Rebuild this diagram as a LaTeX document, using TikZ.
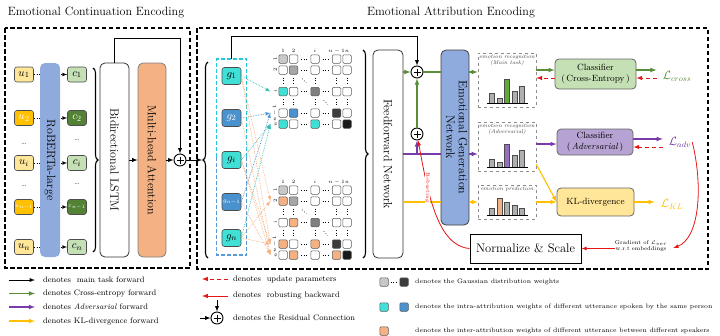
\documentclass[tikz,border=0pt]{standalone}
\usetikzlibrary{arrows,calc,positioning,fit,decorations.pathreplacing}
\definecolor{ULight}{RGB}{255,230,153}
\definecolor{UDark}{RGB}{255,192,0}
\definecolor{CLight}{RGB}{197,224,180}
\definecolor{CDark}{RGB}{84,130,53}
\definecolor{RobClr}{RGB}{143,170,220}
\definecolor{MhaClr}{RGB}{244,177,131}
\definecolor{IntraA}{RGB}{64,224,214}
\definecolor{IntraB}{RGB}{74,146,206}
\definecolor{InterC}{RGB}{244,177,131}
\definecolor{GaussA}{RGB}{200,200,200}
\definecolor{GaussB}{RGB}{166,166,166}
\definecolor{GaussC}{RGB}{127,127,127}
\definecolor{GaussD}{RGB}{60,60,60}
\definecolor{GaussE}{RGB}{25,25,25}
\definecolor{FwdGreen}{RGB}{88,142,56}
\definecolor{FwdPurple}{RGB}{120,60,170}
\definecolor{FwdYellow}{RGB}{255,192,0}
\definecolor{BwdRed}{RGB}{230,20,20}
\definecolor{ClsGreen}{RGB}{197,224,180}
\definecolor{ClsPurple}{RGB}{183,163,211}
\definecolor{KlYellow}{RGB}{255,230,153}
\definecolor{BoxCyan}{RGB}{40,200,220}
\definecolor{BoxBlue}{RGB}{91,155,213}
\definecolor{BarGray}{RGB}{175,175,175}
\definecolor{BarGreen}{RGB}{98,170,55}
\definecolor{BarPurple}{RGB}{150,110,195}

\tikzset{
  tok/.style={draw=black!70, line width=0.6pt, rounded corners=2.5pt, minimum width=19pt,
    minimum height=15pt, inner sep=0pt, font=\fontsize{11}{11}\selectfont},
  gtok/.style={tok, minimum height=17pt},
  dotsl/.style={inner sep=0pt, font=\fontsize{8}{8}\selectfont},
  stack/.style={draw=black!80, line width=0.8pt, rounded corners=5pt, inner sep=0pt,
    font=\fontsize{12}{12.5}\selectfont},
  cell/.style={draw=black!65, line width=0.5pt, rounded corners=1.2pt, minimum size=8.5pt,
    inner sep=0pt, fill=white},
  mtxt/.style={inner sep=0.4pt, font=\fontsize{5}{5}\selectfont},
  mdot/.style={dotted, line width=0.7pt, shorten <=3pt, shorten >=3pt},
  resid/.style={circle, draw, line width=0.9pt, minimum size=12pt, inner sep=0pt,
    path picture={\draw[line width=0.9pt]
      ([yshift=-2.5pt]path picture bounding box.north) -- ([yshift=2.5pt]path picture bounding box.south)
      ([xshift=2.5pt]path picture bounding box.west) -- ([xshift=-2.5pt]path picture bounding box.east);}},
  mfwd/.style={-latex, line width=0.9pt},
  gfwd/.style={-latex, line width=1.1pt, FwdGreen},
  pfwd/.style={-latex, line width=1.1pt, FwdPurple},
  yfwd/.style={-latex, line width=1.1pt, FwdYellow},
  upd/.style={-latex, line width=1pt, BwdRed, dash pattern=on 4pt off 3pt},
  rbwd/.style={-latex, line width=0.8pt, BwdRed},
  toIntraA/.style={-latex, densely dotted, line width=0.7pt, IntraA!85!black},
  toIntraB/.style={-latex, densely dotted, line width=0.7pt, IntraB},
  toInter/.style={-latex, densely dotted, line width=0.7pt, InterC},
  brc/.style={decorate, decoration={brace, amplitude=5pt}, line width=1.1pt},
  outer/.style={draw, line width=1.3pt, dash pattern=on 4.5pt off 2.5pt},
  gframe/.style={line width=1.3pt, dash pattern=on 4pt off 2pt},
  ttl/.style={inner sep=0pt, font=\fontsize{12}{14}\selectfont},
  hbox/.style={draw=black!45, dashed, line width=0.6pt, minimum width=58pt, inner sep=0pt},
  htxt/.style={align=center, inner sep=0pt, text=black!75, font=\fontsize{5.5}{6.5}\selectfont\itshape},
  histbar/.style={draw=black!70, line width=0.5pt},
  clsbox/.style={draw=black!60, line width=0.8pt, rounded corners=4pt, align=center, inner sep=0pt,
    font=\fontsize{9}{10.5}\selectfont},
  lossl/.style={inner sep=1pt, font=\fontsize{12}{12}\selectfont},
  legtxt/.style={anchor=west, inner sep=0pt, font=\fontsize{8}{9}\selectfont},
  legtxtB/.style={legtxt, font=\fontsize{6.4}{7}\selectfont},
  % filled cells of the two attribution maps
  mA 11/.style={fill=GaussA}, mA 22/.style={fill=GaussB}, mA i1/.style={fill=IntraA},
  mA ii/.style={fill=GaussC}, mA m2/.style={fill=IntraB}, mA mm/.style={fill=GaussD},
  mA n1/.style={fill=IntraA}, mA ni/.style={fill=IntraA}, mA nn/.style={fill=GaussE},
  mB 11/.style={fill=GaussA}, mB 21/.style={fill=InterC}, mB 22/.style={fill=GaussB},
  mB i2/.style={fill=InterC}, mB ii/.style={fill=GaussC}, mB m1/.style={fill=InterC},
  mB mi/.style={fill=InterC}, mB mm/.style={fill=GaussD}, mB n2/.style={fill=InterC},
  mB nm/.style={fill=InterC}, mB nn/.style={fill=GaussE}
}

\newcommand{\attmap}[2]{%
  \foreach \mc/\mx in {1/283,2/293.5,i/315,m/336.5,n/347}
    \foreach \mr/\my in {1/0,2/11,i/32.5,m/54,n/65}
      \node[cell, #1 \mr\mc/.try] (#1-\mr-\mc) at (\mx,#2+\my) {};
  \foreach \mc in {1,2,i,m,n}{
    \draw[mdot] (#1-2-\mc) -- (#1-i-\mc);
    \draw[mdot] (#1-i-\mc) -- (#1-m-\mc);
    \draw[mdot] (#1-\mc-2) -- (#1-\mc-i);
    \draw[mdot] (#1-\mc-i) -- (#1-\mc-m);
  }
  \draw[mdot, shorten <=6pt, shorten >=6pt] (#1-2-2) -- (#1-i-i);
  \draw[mdot, shorten <=6pt, shorten >=6pt] (#1-i-i) -- (#1-m-m);
  \foreach \mc/\lbl in {1/1,2/2,i/$i$,m/$n-1$,n/$n$}{
    \node[mtxt, above=1pt of #1-1-\mc] (#1-h-\mc) {\lbl};
    \node[mtxt, rotate=90, anchor=south] (#1-l-\mc) at ([xshift=-1pt]#1-\mc-1.west) {\lbl};
  }
}

\newcommand{\hbars}[2]{%
  \foreach \h/\clr [count=\k] in {#2}
    \draw[histbar, fill=\clr] ({484.5+7.5*\k-2.5},#1) rectangle ++(5,-\h);
  \draw[line width=0.8pt] (487,#1) -- (528,#1);
}

\begin{document}
\begin{tikzpicture}[x=1pt,y=-1pt]
\useasboundingbox (0,0) rectangle (720,335);

\node[ttl] (ttlA) at (96,13) {Emotional Continuation Encoding};
\node[ttl] (ttlB) at (451,12) {Emotional Attribution Encoding};
\draw[outer] (5,28) rectangle (190,268);
\draw[outer] (197,28) rectangle (708,269);

% continuation encoding
\node[tok, fill=ULight] (u1) at (24,74.5) {$u_1$};
\node[tok, fill=UDark, text=white] (u2) at (24,118) {$u_2$};
\node[dotsl] (udA) at (24,144) {\dots};
\node[tok, fill=ULight] (ui) at (24,163) {$u_i$};
\node[dotsl] (udB) at (24,186) {\dots};
\node[tok, fill=UDark, text=white, font=\fontsize{6.5}{7}\selectfont] (un1) at (24,207) {$u_{n-1}$};
\node[tok, fill=ULight] (un) at (24,247) {$u_n$};

\node[tok, fill=CLight] (c1) at (77,74.5) {$c_1$};
\node[tok, fill=CDark, text=white] (c2) at (77,118) {$c_2$};
\node[dotsl] (cdA) at (77,140) {\dots};
\node[tok, fill=CLight] (ci) at (77,163) {$c_i$};
\node[dotsl] (cdB) at (77,184) {\dots};
\node[tok, fill=CDark, text=white, font=\fontsize{6.5}{7}\selectfont] (cn1) at (77,207) {$c_{n-1}$};
\node[tok, fill=CLight] (cn) at (77,247) {$c_n$};

\foreach \a in {1,2,i,n1,n}
  \draw[dotted, -latex, line width=0.7pt] (u\a) -- (c\a);

\node[stack, draw=none, fill=RobClr, minimum width=20pt, minimum height=194pt] (rob) at (50,160) {\rotatebox{-90}{RoBERTa-large}};

\draw[brc] (93,68) -- (93,252);
\node[stack, fill=white, minimum width=29pt, minimum height=194pt] (lstm) at (114.5,160) {\rotatebox{-90}{Bidirectional LSTM}};
\node[stack, draw=black!50, fill=MhaClr, minimum width=28pt, minimum height=194pt] (mha) at (152,160) {\rotatebox{-90}{Multi-head Attention}};
\node[resid] (add1) at (180,160) {};
\draw[mfwd] (lstm) -- (mha);
\draw[mfwd] (mha) -- (add1);
\draw[mfwd] (lstm.north) -- ++(0,-24) -| (add1);

% attribution encoding
\draw[brc] (208,258) -- (208,62);
\coordinate (gtip) at (202,160);
\draw[mfwd] (add1) -- (gtip);

\node[gtok, fill=IntraA] (g1) at (231.5,76) {$g_1$};
\node[gtok, fill=IntraB, text=white] (g2) at (231.5,118) {$g_2$};
\node[gtok, fill=IntraA] (gi) at (231.5,160) {$g_i$};
\node[gtok, fill=IntraB, text=white, font=\fontsize{6.5}{7}\selectfont] (gn1) at (231.5,202) {$g_{n-1}$};
\node[gtok, fill=IntraA] (gn) at (231.5,238) {$g_n$};
\node[fit=(g1)(gn), inner xsep=5pt, inner ysep=8pt] (gbox) {};
\draw[gframe, BoxCyan] (gbox.west) |- (gbox.north) -| (gbox.east);
\draw[gframe, BoxBlue] (gbox.west) |- (gbox.south) -| (gbox.east);

\attmap{mA}{59}
\attmap{mB}{190}

\draw[toIntraA] (g1.east) -- ([xshift=-8pt]mA-i-1.west);
\draw[toIntraB] (g2.east) -- ([xshift=-8pt]mA-m-1.west);
\draw[toIntraA] (gi.east) -- ([xshift=-8pt]mA-n-1.west);
\draw[toIntraB] (gn1.east) -- ([xshift=-8pt]mA-m-1.west);
\draw[toIntraA] (gn.east) -- ([xshift=-8pt]mA-n-1.west);
\draw[toInter] (g1.east) -- ([xshift=-8pt]mB-2-1.west);
\draw[toInter] (g1.east) -- ([xshift=-8pt]mB-m-1.west);
\draw[toInter] (g2.east) -- ([xshift=-8pt]mB-n-1.west);
\draw[toInter] (gi.east) -- ([xshift=-8pt]mB-m-1.west);
\draw[toInter] (gi.east) -- ([xshift=-8pt]mB-n-1.west);
\draw[toInter] (gn1.east) -- ([xshift=-8pt]mB-n-1.west);
\draw[toInter] (gn.east) -- ([xshift=-8pt]mB-2-1.west);
\draw[toInter] (gn.east) -- ([xshift=-8pt]mB-m-1.west);

\draw[brc] (363,50) -- (363,258);
\node[stack, fill=white, minimum width=30pt, minimum height=208pt] (ffn) at (388,154) {\rotatebox{-90}{Feedforward Network}};
\node[resid] (add2) at (417,72) {};
\node[resid] (add3) at (417,134) {};
\node[stack, draw=black!75, fill=RobClr, minimum width=28pt, minimum height=175pt] (egn) at (455,137.5)
  {\rotatebox{-90}{\begin{tabular}{@{}c@{}}Emotional Generation\\Network\end{tabular}}};

\node[hbox, minimum height=54pt] (hist1) at (507,80) {};
\node[htxt, below=1.5pt of hist1.north] (hist1t) {emotion recognition\\(Main task)};
\hbars{103}{10/BarGray,5/BarGray,24/BarGreen,12/BarGray,17/BarGray}
\node[hbox, minimum height=49pt] (hist2) at (507,146.5) {};
\node[htxt, below=1.5pt of hist2.north] (hist2t) {emotion recognition\\(Adversarial)};
\hbars{167}{8/BarGray,5/BarGray,23/BarPurple,12/BarGray,17/BarGray}
\node[hbox, minimum height=34pt] (hist3) at (507,202) {};
\node[htxt, below=1.5pt of hist3.north] (hist3t) {emotion prediction};
\hbars{215}{7/BarGray,17/InterC,13/BarGray,10/BarGray,7/BarGray}

\node[clsbox, fill=ClsGreen, minimum width=81pt, minimum height=30pt] (cls1) at (595.5,74) {Classifier\\(\,Cross-Entropy\,)};
\node[clsbox, fill=ClsPurple, minimum width=76pt, minimum height=26pt] (cls2) at (595,142) {Classifier\\(\,\textit{Adversarial}\,)};
\node[clsbox, fill=KlYellow, minimum width=77pt, minimum height=28pt] (kl) at (595.5,202) {KL-divergence};
\node[lossl, text=FwdGreen] (lce) at (677,76) {$\mathcal{L}_{cross}$};
\node[lossl, text=FwdPurple] (lad) at (680,142) {$\mathcal{L}_{adv}$};
\node[lossl, text=FwdYellow] (lkl) at (672,204) {$\mathcal{L}_{KL}$};

\node[draw, line width=1pt, minimum width=111pt, minimum height=29pt, inner sep=0pt, font=\fontsize{12.5}{13}\selectfont] (norm) at (525.5,248.5) {Normalize \& Scale};
\node[align=center, inner sep=0pt, font=\fontsize{5.5}{6.5}\selectfont] (grad) at (641,246) {Gradient of $\mathcal{L}_{ver}$\\w.r.t embeddings};

\draw[mfwd] (gbox.north) -- ++(0,-23) -| (add2);
\draw[gfwd] (ffn.east |- add2) -- (add2);
\draw[gfwd, -] (add2) -- (egn.west |- add2);
\draw[gfwd] (add3) -- (add2);
\draw[pfwd, -] (ffn.east) -- (egn.west |- ffn.east);
\draw[pfwd] (add3 |- ffn.east) -- (add3);
\draw[yfwd, -] (ffn.east |- kl) -- (egn.west |- kl);
\draw[gfwd] (egn.east |- add2) -- (hist1.west |- add2);
\draw[pfwd] (egn.east |- ffn.east) -- (hist2.west |- ffn.east);
\draw[yfwd] (egn.east |- hist3) -- (hist3.west);

\draw[gfwd] ([yshift=10pt]hist1.east) -- ([yshift=4pt]cls1.west);
\draw[upd] ([yshift=-4pt]cls1.west) -- ([yshift=2pt]hist1.east);
\draw[gfwd] ([yshift=4pt]cls1.east) -- ([xshift=-5pt,yshift=6pt]lce.west);
\draw[upd] ([xshift=-5pt,yshift=-2pt]lce.west) -- ([yshift=-4pt]cls1.east);
\draw[pfwd] ([yshift=2.5pt]hist2.east) -- ([yshift=-2pt]cls2.west);
\draw[pfwd] ([yshift=3pt]cls2.east) -- ([xshift=-5pt,yshift=3pt]lad.west);
\draw[upd] ([xshift=-5pt,yshift=-5pt]lad.west) -- ([yshift=-5pt]cls2.east);
\draw[yfwd] (hist3) -- (kl);
\draw[yfwd] ([yshift=7pt]hist2.south east) -- (kl.west);
\draw[yfwd] (kl.east) -- ([xshift=-5pt,yshift=2pt]lkl.west);

\draw[rbwd] (lad.east) .. controls (703,185) and (700,238) .. ([xshift=6pt,yshift=-2pt]grad.east);
\draw[rbwd] (grad.west |- norm.east) -- (norm.east);
\draw[rbwd] (norm.west) .. controls (438,246) and (428,195) .. (add3)
  node[pos=.7, rotate=-90, fill=white, inner sep=0.6pt, text=BwdRed, font=\fontsize{5}{5}\selectfont] (robl) {Robusting};

% legend
\node[legtxt] (lgA) at (43,280) {denotes ~main task forward};
\node[legtxt] (lgB) at (43,293.5) {denotes Cross-entropy forward};
\node[legtxt] (lgC) at (43,307) {denotes \textit{Adversarial} forward};
\node[legtxt] (lgD) at (43,321) {denotes KL-divergence forward};
\foreach \n/\s in {A/mfwd,B/gfwd,C/pfwd,D/yfwd}
  \draw[\s] ([xshift=-34pt]lg\n.west) -- ([xshift=-8pt]lg\n.west);

\node[legtxt] (lgE) at (233,279) {denotes ~update parameters};
\draw[upd] ([xshift=-5pt]lgE.west) -- ([xshift=-31pt]lgE.west);
\node[legtxt] (lgF) at (233,296) {denotes ~robusting backward};
\draw[rbwd, line width=1pt] ([xshift=-5pt]lgF.west) -- ([xshift=-31pt]lgF.west);
\node[resid] (lres) at (217,318) {};
\draw[mfwd] ([xshift=-17pt]lres.center) -- (lres);
\draw[mfwd] ([yshift=18pt]lres.center) -- (lres);
\node[legtxt] (lgG) at (233,318) {denotes the Residual Connection};

\node[cell, fill=GaussA] (lsqA) at (384,282) {};
\node[cell, fill=GaussD] (lsqB) at (404,282) {};
\draw[mdot, shorten <=2pt, shorten >=2pt] (lsqA) -- (lsqB);
\node[legtxtB] (lgH) at (415,282) {denotes the Gaussian distribution weights};
\node[cell, fill=IntraA] (lsqC) at (384,307) {};
\node[cell, fill=IntraB] (lsqD) at (404,307) {};
\node[legtxtB] (lgI) at (415,307) {denotes the intra-attribution weights of different utterance spoken by the same person};
\node[cell, fill=InterC] (lsqE) at (384,331) {};
\node[legtxtB] (lgJ) at (415,331) {denotes the inter-attribution weights of different utterance between different speakers};

\end{tikzpicture}
\end{document}
